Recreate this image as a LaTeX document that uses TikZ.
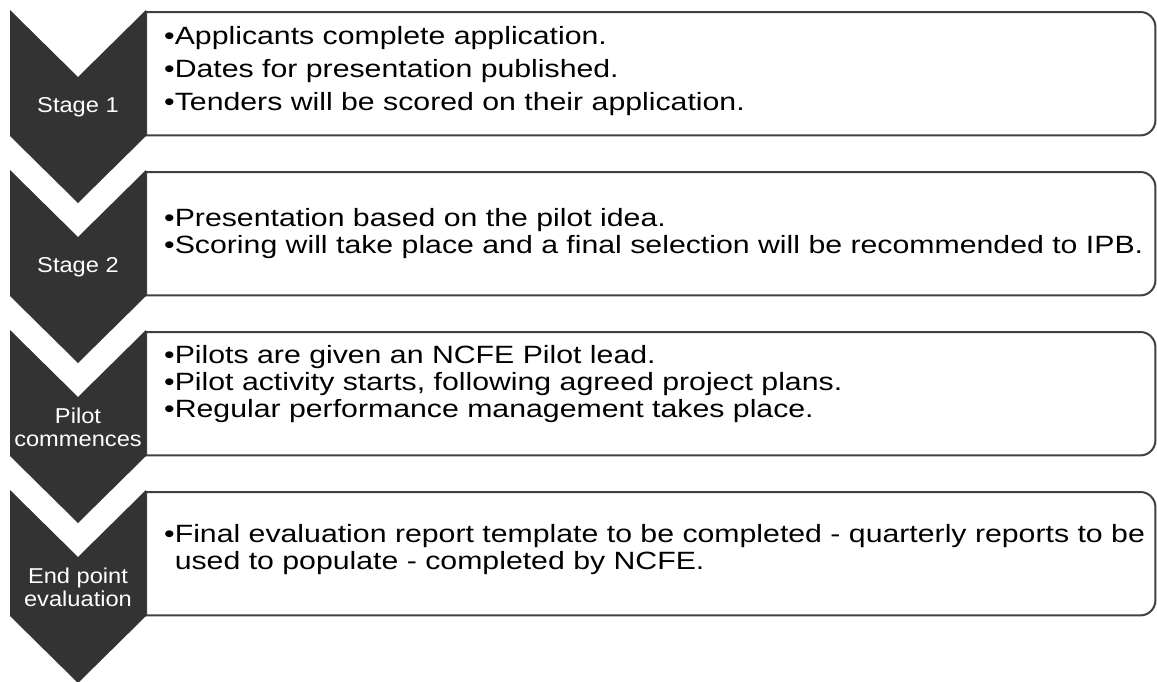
\documentclass[tikz,border=0pt]{standalone}
\usepackage{fontspec}
\setmainfont{Liberation Sans}
\newfontfamily\stepfont[FakeStretch=1.21]{Liberation Sans}
\newfontfamily\tagfont[FakeStretch=1.1]{Liberation Sans}
\usetikzlibrary{positioning}
\definecolor{chevgray}{RGB}{51,51,51}
\definecolor{framegray}{RGB}{64,64,64}
% outline of a panel: square on the left, rounded on the right
\newcommand{\panelframe}[1]{\draw[frame] (#1.north west) -- ([xshift=-15pt]#1.north east)
  arc[start angle=90,end angle=0,radius=15pt] -- ([yshift=15pt]#1.south east)
  arc[start angle=0,end angle=-90,radius=15pt] -- (#1.south west) -- cycle;}

\begin{document}
\begin{tikzpicture}[x=1pt,y=-1pt,inner sep=0pt]
\tikzstyle{chev}=[fill=chevgray]
\tikzstyle{tag}=[text=white, align=center, font=\tagfont\fontsize{21.5}{23}\selectfont]
\tikzstyle{panel}=[minimum width=1009pt, minimum height=123pt, anchor=north west]
\tikzstyle{frame}=[draw=framegray, line width=2pt, fill=white]
\tikzstyle{items}=[align=left, anchor=west, font=\stepfont\fontsize{25}{27}\selectfont]
\useasboundingbox (0,0) rectangle (1157,681);
% panels
\node[panel] (p1) at (146,12) {};
\node[panel] (p2) at (146,172) {};
\node[panel] (p3) at (146,332) {};
\node[panel] (p4) at (146,492) {};
\panelframe{p1}
\panelframe{p2}
\panelframe{p3}
\panelframe{p4}
% chevrons on top of the panel edges
\fill[chev] (10,10) -- (78,77) -- (146,10) -- (146,136) -- (78,203) -- (10,136) -- cycle;
\fill[chev] (10,170) -- (78,237) -- (146,170) -- (146,296) -- (78,363) -- (10,296) -- cycle;
\fill[chev] (10,330) -- (78,397) -- (146,330) -- (146,456) -- (78,523) -- (10,456) -- cycle;
\fill[chev] (10,490) -- (78,557) -- (146,490) -- (146,616) -- (78,683) -- (10,616) -- cycle;
\node[tag] (s1) at (78,107) {Stage 1};
\node[tag] (s2) at (78,267) {Stage 2};
\node[tag] (s3) at (78,427) {Pilot\\commences};
\node[tag] (s4) at (78,587) {End point\\evaluation};
% bullet lists
\node[items] (t1) at (164,71) {•Applicants complete application.\\[6pt]
  •Dates for presentation published.\\[6pt]
  •Tenders will be scored on their application.};
\node[items] (t2) at (164,233.5) {•Presentation based on the pilot idea.\\
  •Scoring will take place and a final selection will be recommended to IPB.};
\node[items] (t3) at (164,384) {•Pilots are given an NCFE Pilot lead.\\
  •Pilot activity starts, following agreed project plans.\\
  •Regular performance management takes place.};
\node[items] (t4) at (164,549.5) {•Final evaluation report template to be completed - quarterly reports to be\\
  \hphantom{•}used to populate - completed by NCFE.};
\end{tikzpicture}
\end{document}
